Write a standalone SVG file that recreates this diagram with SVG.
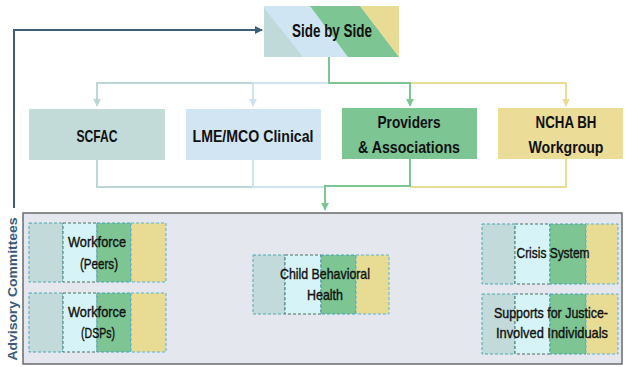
<svg xmlns="http://www.w3.org/2000/svg" width="626" height="367" viewBox="0 0 626 367">
<style>
  .lbl{font-family:"Liberation Sans",Arial,sans-serif;font-weight:bold;fill:#111;text-anchor:middle}
  .top{font-size:17px}
  .sub{font-size:15px;font-weight:normal;stroke:#111;stroke-width:0.4}
  .c{fill:none;stroke-width:2}
  .teal{stroke:#bcd8d6}.blue{stroke:#cde3f2}.green{stroke:#7ec594}.yel{stroke:#e9dc96}
  .seg{stroke-width:1;stroke-dasharray:3 2}
  .s1{fill:#c2dad9;stroke:#4aa9b6}
  .s2{fill:#d6f4f8;stroke:#4d6e60}
  .s3{fill:#7ec594;stroke:#3fa3b3}
  .s4{fill:#e8dc95;stroke:#55b4dc}
</style>
<defs>
  <marker id="aT" viewBox="0 0 10 10" refX="9" refY="5" markerWidth="4" markerHeight="4" orient="auto"><path d="M0,0L10,5L0,10z" fill="#bcd8d6"/></marker>
  <marker id="aB" viewBox="0 0 10 10" refX="9" refY="5" markerWidth="4" markerHeight="4" orient="auto"><path d="M0,0L10,5L0,10z" fill="#cde3f2"/></marker>
  <marker id="aG" viewBox="0 0 10 10" refX="9" refY="5" markerWidth="4" markerHeight="4" orient="auto"><path d="M0,0L10,5L0,10z" fill="#7ec594"/></marker>
  <marker id="aY" viewBox="0 0 10 10" refX="9" refY="5" markerWidth="4" markerHeight="4" orient="auto"><path d="M0,0L10,5L0,10z" fill="#e9dc96"/></marker>
  <marker id="aD" viewBox="0 0 10 10" refX="9" refY="5" markerWidth="4" markerHeight="4" orient="auto"><path d="M0,0L10,5L0,10z" fill="#3e5f7a"/></marker>
</defs>

<g id="panel">
  <rect x="23" y="213" width="599" height="151" fill="#e4e7ee" stroke="#6b6b6b" stroke-width="1.5"/>
  <text class="lbl" x="0" y="0" font-size="12.5" style="fill:#3b5a7a" transform="translate(17 289) rotate(-90)" textLength="143" lengthAdjust="spacingAndGlyphs">Advisory Committees</text>
</g>

<g id="connectors">
  <path class="c teal" d="M253 83H97V106" marker-end="url(#aT)"/>
  <path class="c blue" d="M329 83H253V106" marker-end="url(#aB)"/>
  <path class="c yel" d="M410 83H566V106" marker-end="url(#aY)"/>
  <path class="c green" d="M329 57V83H410V106" marker-end="url(#aG)"/>
  <path class="c teal" d="M97 160V187H253"/>
  <path class="c blue" d="M253 160V187H325"/>
  <path class="c yel" d="M566 159V187H410"/>
  <path class="c green" d="M410 159V186H325V210" marker-end="url(#aG)"/>
  <path fill="none" stroke="#3e5f7a" stroke-width="2" d="M14 208V30H262" marker-end="url(#aD)"/>
</g>

<g id="side-by-side">
  <rect x="264" y="6" width="135" height="51" fill="#d0e5f3"/>
  <polygon points="264,8 303,57 264,57" fill="#c0dad9"/>
  <polygon points="310,6 360,6 399,57 348,57" fill="#7ec594"/>
  <polygon points="360,6 399,6 399,57" fill="#e8dc95"/>
  <text class="lbl" x="332" y="37" font-size="18" textLength="80" lengthAdjust="spacingAndGlyphs">Side by Side</text>
</g>

<g id="scfac">
  <rect x="29" y="109" width="136" height="51" fill="#c2dbd9"/>
  <text class="lbl top" x="97" y="142" textLength="41" lengthAdjust="spacingAndGlyphs">SCFAC</text>
</g>
<g id="lme">
  <rect x="186" y="109" width="135" height="51" fill="#d1e5f3"/>
  <text class="lbl top" x="253" y="142" textLength="121" lengthAdjust="spacingAndGlyphs">LME/MCO Clinical</text>
</g>
<g id="providers">
  <rect x="342" y="108" width="135" height="51" fill="#7ec594"/>
  <text class="lbl top" x="409" y="128" textLength="63" lengthAdjust="spacingAndGlyphs">Providers</text>
  <text class="lbl top" x="409" y="153" textLength="102" lengthAdjust="spacingAndGlyphs">&amp;  Associations</text>
</g>
<g id="ncha">
  <rect x="498" y="108" width="125" height="51" fill="#ebdc98"/>
  <text class="lbl top" x="566" y="128" textLength="61" lengthAdjust="spacingAndGlyphs">NCHA BH</text>
  <text class="lbl top" x="566" y="153" textLength="75" lengthAdjust="spacingAndGlyphs">Workgroup</text>
</g>

<g id="workforce-peers">
  <rect class="seg s1" x="29" y="223" width="34" height="59"/>
  <rect class="seg s2" x="63" y="223" width="34" height="59"/>
  <rect class="seg s3" x="97" y="223" width="34" height="59"/>
  <rect class="seg s4" x="131" y="223" width="35" height="59"/>
  <text class="lbl sub" x="97" y="247" textLength="58" lengthAdjust="spacingAndGlyphs">Workforce</text>
  <text class="lbl sub" x="99" y="269" textLength="38" lengthAdjust="spacingAndGlyphs">(Peers)</text>
</g>
<g id="workforce-dsps">
  <rect class="seg s1" x="29" y="293" width="34" height="59"/>
  <rect class="seg s2" x="63" y="293" width="34" height="59"/>
  <rect class="seg s3" x="97" y="293" width="34" height="59"/>
  <rect class="seg s4" x="131" y="293" width="35" height="59"/>
  <text class="lbl sub" x="97" y="317" textLength="58" lengthAdjust="spacingAndGlyphs">Workforce</text>
  <text class="lbl sub" x="98" y="338" textLength="34" lengthAdjust="spacingAndGlyphs">(DSPs)</text>
</g>
<g id="child-bh">
  <rect class="seg s1" x="253" y="255" width="32" height="59"/>
  <rect class="seg s2" x="285" y="255" width="36" height="59"/>
  <rect class="seg s3" x="321" y="255" width="35" height="59"/>
  <rect class="seg s4" x="356" y="255" width="33" height="59"/>
  <text class="lbl sub" x="325" y="279" textLength="90" lengthAdjust="spacingAndGlyphs">Child Behavioral</text>
  <text class="lbl sub" x="325" y="300" textLength="36" lengthAdjust="spacingAndGlyphs">Health</text>
</g>
<g id="crisis">
  <rect class="seg s1" x="482" y="224" width="33" height="60"/>
  <rect class="seg s2" x="515" y="224" width="35" height="60"/>
  <rect class="seg s3" x="550" y="224" width="36" height="60"/>
  <rect class="seg s4" x="586" y="224" width="32" height="60"/>
  <text class="lbl sub" x="553" y="258" textLength="73" lengthAdjust="spacingAndGlyphs">Crisis System</text>
</g>
<g id="justice">
  <rect class="seg s1" x="482" y="294" width="33" height="60"/>
  <rect class="seg s2" x="515" y="294" width="35" height="60"/>
  <rect class="seg s3" x="550" y="294" width="36" height="60"/>
  <rect class="seg s4" x="586" y="294" width="32" height="60"/>
  <text class="lbl sub" x="551" y="318" textLength="114" lengthAdjust="spacingAndGlyphs">Supports for Justice-</text>
  <text class="lbl sub" x="552" y="338" textLength="112" lengthAdjust="spacingAndGlyphs">Involved Individuals</text>
</g>
</svg>
